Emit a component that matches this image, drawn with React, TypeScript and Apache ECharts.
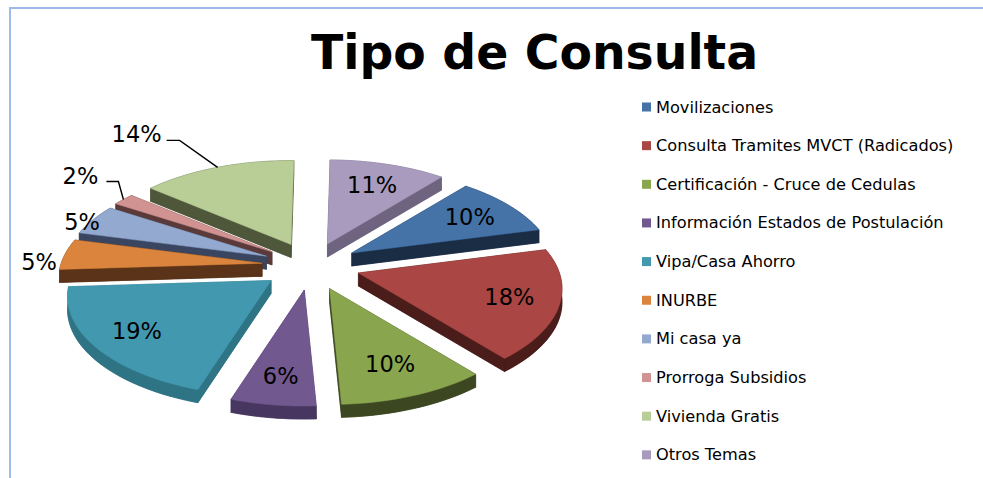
import React, { useEffect, useRef } from "react";
import * as echarts from "echarts";

const categories = [
  "Movilizaciones",
  "Consulta Tramites MVCT (Radicados)",
  "Certificación - Cruce de Cedulas",
  "Información Estados de Postulación",
  "Vipa/Casa Ahorro",
  "INURBE",
  "Mi casa ya",
  "Prorroga Subsidios",
  "Vivienda Gratis",
  "Otros Temas",
];
const values = [10, 18, 10.2, 5.8, 19, 5, 5, 2, 14.25, 10.75];
const topColors = ["#4572A7", "#AA4643", "#89A54E", "#71588F", "#4198AF", "#DB843D", "#93A9CF", "#D19392", "#B9CD96", "#A99BBD"];
const sideColors = ["#1B2D45", "#4A1C1A", "#3C4722", "#47365F", "#2F7484", "#5A3318", "#3A4560", "#5A3B3A", "#4E5739", "#6E6480"];

// Placement of each percentage label: inside the slice as a fraction of its radius,
// or outside next to the rim (offset from the rim's mid point, with an optional leader).
const labelRadius = [0.74, 0.76, 0.74, 0.78, 0.78, 0, 0, 0, 0, 0.71];
const labelOffset: ([number, number] | null)[] = [null, null, null, null, null, [-26, 8], [-11, 2], [-43, -23], [-81, -33], null];
const leaderPath: ([number, number][] | null)[] = [
  null, null, null, null, null, null, null,
  [[-5, -18], [-17, -18]],
  [[-38, -27], [-51, -27]],
  null,
];

const CX = 311;
const CY = 265.5;
const RX = 201;
const RY = 97.4;
const PERSPECTIVE = 0.16;
const EXPLODE = 0.245;
const DEPTH = 13;
const START_DEG = 39.6;
const total = values.reduce((a, b) => a + b, 0);
const rad = (d: number) => (d * Math.PI) / 180;

function project(x: number, z: number): [number, number] {
  const w = 1 / (1 - PERSPECTIVE * z);
  return [RX * x * w, RY * z * w];
}

function slicePts(i: number) {
  const before = values.slice(0, i).reduce((a, b) => a + b, 0);
  const a0 = START_DEG + (before / total) * 360;
  const a1 = a0 + (values[i] / total) * 360;
  const mid = (a0 + a1) / 2;
  const mx = Math.sin(rad(mid));
  const mz = -Math.cos(rad(mid));
  const off = project(EXPLODE * mx, EXPLODE * mz);
  const apex: [number, number] = [CX + off[0], CY + off[1]];
  const arc: [number, number][] = [];
  const steps = Math.max(4, Math.ceil((a1 - a0) / 2));
  for (let s = 0; s <= steps; s++) {
    const a = a0 + ((a1 - a0) * s) / steps;
    const p = project(Math.sin(rad(a)), -Math.cos(rad(a)));
    arc.push([apex[0] + p[0], apex[1] + p[1]]);
  }
  const at = (r: number): [number, number] => {
    const p = project(r * mx, r * mz);
    return [apex[0] + p[0], apex[1] + p[1]];
  };
  return { apex, arc, at, mz };
}

const down = (p: [number, number]): [number, number] => [p[0], p[1] + DEPTH];

function renderSlice(params: any) {
  const i = params.seriesIndex;
  const { apex, arc, at } = slicePts(i);
  const side = sideColors[i];
  const top = topColors[i];
  const poly = (pts: [number, number][], fill: string) => ({
    type: "polygon",
    shape: { points: pts },
    style: { fill, stroke: fill, lineWidth: 0.5 },
  });
  const first = arc[0];
  const last = arc[arc.length - 1];
  const children: any[] = [
    poly([apex, ...arc].map(down), side),
    poly([apex, first, down(first), down(apex)], side),
    poly([apex, last, down(last), down(apex)], side),
    poly([...arc, ...arc.slice().reverse().map(down)], side),
    poly([apex, ...arc], top),
  ];
  const text = `${Math.round((values[i] / total) * 100)}%`;
  let pos: [number, number];
  const o = labelOffset[i];
  if (o) {
    const rim = at(1);
    pos = [rim[0] + o[0], rim[1] + o[1]];
    const leader = leaderPath[i];
    if (leader) {
      children.push({
        type: "polyline",
        shape: { points: [rim, ...leader.map((l) => [rim[0] + l[0], rim[1] + l[1]])] },
        style: { stroke: "#000000", lineWidth: 1.4, fill: "none" },
      });
    }
  } else {
    pos = at(labelRadius[i]);
  }
  children.push({
    type: "text",
    style: {
      text,
      x: pos[0],
      y: pos[1],
      align: "center",
      verticalAlign: "middle",
      font: '22.5px "DejaVu Sans"',
      fill: "#000000",
    },
  });
  return { type: "group", children };
}

const depthRank = categories.map((_, i) => {
  const mine = slicePts(i).mz;
  return categories.filter((__, j) => slicePts(j).mz < mine).length;
});

export default function App() {
  const ref = useRef<HTMLDivElement>(null);
  useEffect(() => {
    document.body.style.margin = "0";
    const chart = echarts.init(ref.current!, undefined, { renderer: "svg" });
    chart.setOption({
      animation: false,
      backgroundColor: "#ffffff",
      title: {
        text: "Tipo de Consulta",
        left: 306,
        top: 24,
        textStyle: { fontFamily: "DejaVu Sans", fontWeight: "bold", fontSize: 47.3, color: "#000000" },
      },
      legend: {
        orient: "vertical",
        left: 637,
        top: 94,
        itemWidth: 9,
        itemHeight: 9,
        itemGap: 22.65,
        icon: "rect",
        data: categories,
        textStyle: { fontFamily: "DejaVu Sans", fontSize: 16.2, color: "#000000" },
      },
      graphic: [
        { type: "line", shape: { x1: 10, y1: 8, x2: 983, y2: 8 }, style: { stroke: "#9DBBEA", lineWidth: 2 } },
        { type: "line", shape: { x1: 10, y1: 7, x2: 10, y2: 478 }, style: { stroke: "#9DBBEA", lineWidth: 2 } },
      ],
      series: categories.map((name, i) => ({
        type: "custom",
        name,
        coordinateSystem: "none",
        z: 2 + depthRank[i],
        silent: true,
        itemStyle: { color: topColors[i] },
        renderItem: renderSlice,
        data: [[values[i]]],
      })),
    });
    return () => chart.dispose();
  }, []);
  return <div ref={ref} style={{ width: 983, height: 478 }} />;
}
